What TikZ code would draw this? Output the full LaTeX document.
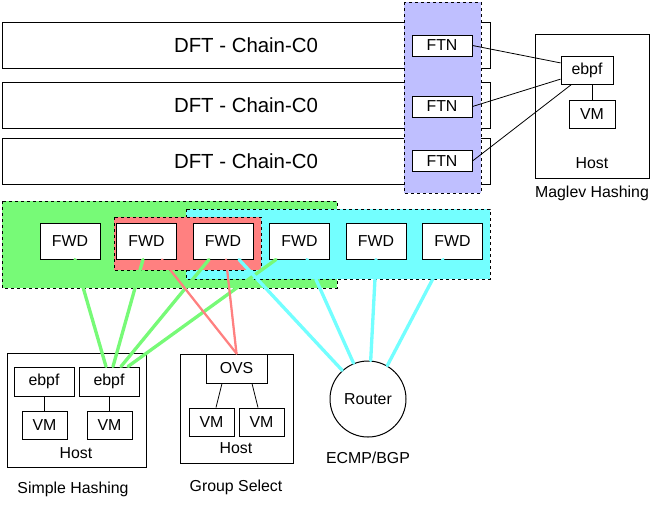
\documentclass[tikz,border=0pt]{standalone}
\usepackage{fontspec}
\setmainfont{Liberation Sans}
\usetikzlibrary{calc}

\definecolor{ftnblue}{RGB}{191,191,255}
\definecolor{fwdgreen}{RGB}{119,250,119}
\definecolor{fwdcyan}{RGB}{115,255,255}
\definecolor{fwdred}{RGB}{255,128,128}

\tikzset{
  box/.style={draw, fill=white, line width=0.75pt, inner sep=0pt, font=\fontsize{11.9}{14}\selectfont},
  caption/.style={inner sep=0pt, font=\fontsize{11.9}{14}\selectfont},
  region/.style={draw, dash pattern=on 2.25pt off 2.25pt, line width=0.75pt},
  link/.style={line width=0.6pt},
  hashlink/.style={line width=2.5pt, line cap=round}
}

\begin{document}
\begin{tikzpicture}[x=0.75pt, y=-0.75pt]
\useasboundingbox (0,0) rectangle (655,504);

% Draw chains
\foreach \i/\y in {1/45.5, 2/105.5, 3/161}
  \node[box, minimum width=366pt, minimum height=34.5pt, font=\fontsize{15.3}{18}\selectfont] (chain\i) at (246,\y) {DFT - Chain-C0};

% Draw FTN column
\filldraw[region, fill=ftnblue] (404,2) rectangle (481,193);
\foreach \i/\y in {1/45.5, 2/106.5, 3/161}
  \node[box, minimum width=45pt, minimum height=15.75pt] (ftn\i) at (442,\y) {FTN};

% Draw Maglev host
\node[box, minimum width=85.5pt, minimum height=108pt] (maglevhost) at (592,106) {};
\node[box, minimum width=39pt, minimum height=21pt] (ebpfm) at (587,70) {ebpf};
\node[box, minimum width=34.5pt, minimum height=21pt] (vmm) at (592,114) {VM};
\node[caption] (maglevhostlabel) at (592,163) {Host};
\node[caption] (maglevlabel) at (592,193) {Maglev Hashing};
\draw[link] (vmm.north) -- (vmm.north |- ebpfm.south);

% Draw FTN links
\draw[link] (ftn1.east) -- (ebpfm.165);
\draw[link] (ftn2.east) -- (ebpfm.199);
\draw[link] (ftn3.east) -- (ebpfm.223);

% Draw FWD groups
\filldraw[region, fill=fwdgreen] (2,201) rectangle (337,288);
\filldraw[region, fill=fwdcyan] (186,209) rectangle (490,279);
\filldraw[region, fill=fwdred] (114,217) rectangle (261,270);
\foreach \i/\x in {1/70, 2/146.5, 3/223, 4/299.5, 5/376, 6/452.5}
  \node[box, minimum width=45pt, minimum height=27pt] (fwd\i) at (\x,241) {FWD};

% Draw Simple Hashing host
\node[box, minimum width=104.25pt, minimum height=85.5pt] (simplehost) at (76.5,410) {};
\node[box, minimum width=45pt, minimum height=21.75pt] (ebpfs1) at (44,381.5) {ebpf};
\node[box, minimum width=45pt, minimum height=21.75pt] (ebpfs2) at (109,381.5) {ebpf};
\node[box, minimum width=33.75pt, minimum height=21pt] (vms1) at (44.5,425) {VM};
\node[box, minimum width=33.75pt, minimum height=21pt] (vms2) at (109.5,425) {VM};
\node[caption] (simplehostlabel) at (76,453) {Host};
\node[caption] (simplelabel) at (73,489) {Simple Hashing};
\draw[link] (vms1.north) -- (vms1.north |- ebpfs1.south);
\draw[link] (vms2.north) -- (vms2.north |- ebpfs2.south);

% Draw Group Select host
\node[box, minimum width=84.75pt, minimum height=81.75pt] (grouphost) at (236.5,408.5) {};
\node[box, minimum width=45.75pt, minimum height=21.75pt] (ovs) at (236.5,368.5) {OVS};
\node[box, minimum width=33.75pt, minimum height=21pt] (vmg1) at (211.5,422) {VM};
\node[box, minimum width=33.75pt, minimum height=21pt] (vmg2) at (261.5,422) {VM};
\node[caption] (grouphostlabel) at (236,448) {Host};
\node[caption] (grouplabel) at (236,487) {Group Select};
\draw[link] ($(ovs.south)+(-14.5,0)$) -- ($(vmg1.north)+(4.5,0)$);
\draw[link] ($(ovs.south)+(15.5,0)$) -- ($(vmg2.north)+(-3.5,0)$);

% Draw router
\node[draw, circle, line width=0.75pt, minimum size=57pt, inner sep=0pt, font=\fontsize{11.9}{14}\selectfont] (router) at (368,399) {Router};
\node[caption] (routerlabel) at (368,458) {ECMP/BGP};

% Draw hashing links
\draw[hashlink, fwdgreen] ($(fwd1.south)+(5,0)$) -- ($(ebpfs2.north)+(-3,0)$);
\draw[hashlink, fwdgreen] ($(fwd2.south)+(-3.5,0)$) -- ($(ebpfs2.north)+(4,0)$);
\draw[hashlink, fwdgreen] ($(fwd3.south)+(-14,0)$) -- ($(ebpfs2.north)+(12,0)$);
\draw[hashlink, fwdgreen] ($(fwd4.south)+(-23.5,0)$) -- ($(ebpfs2.north)+(19,0)$);
\draw[hashlink, fwdred, line width=1.7pt] ($(fwd2.south)+(15.5,0)$) -- (ovs.north);
\draw[hashlink, fwdred, line width=1.7pt] ($(fwd3.south)+(3,0)$) -- (ovs.north);
\draw[hashlink, fwdcyan] ($(fwd3.south)+(16,0)$) -- (router.132);
\draw[hashlink, fwdcyan] ($(fwd4.south)+(7.5,0)$) -- (router.112);
\draw[hashlink, fwdcyan] (fwd5.south) -- (router.86);
\draw[hashlink, fwdcyan] ($(fwd6.south)+(-9.5,0)$) -- (router.60);
\end{tikzpicture}
\end{document}
